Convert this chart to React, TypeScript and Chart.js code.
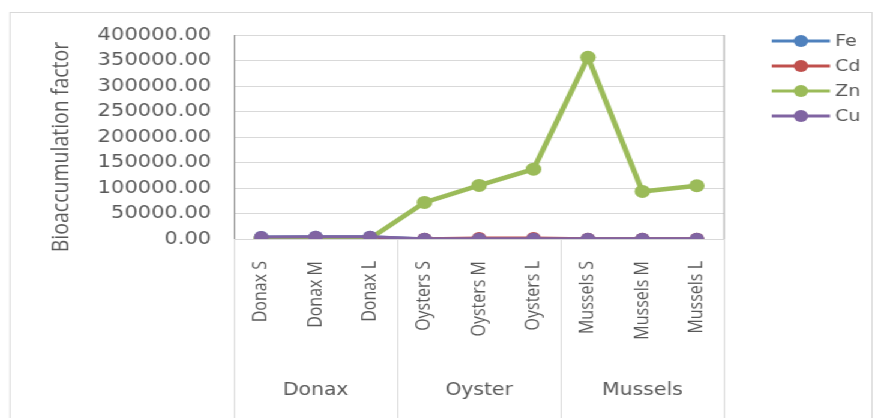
import React, { useEffect, useRef } from "react";
import { Chart, registerables } from "chart.js";

Chart.register(...registerables);

// ---- data ----
const categories = [
  "Donax S", "Donax M", "Donax L",
  "Oysters S", "Oysters M", "Oysters L",
  "Mussels S", "Mussels M", "Mussels L",
];
const groups = ["Donax", "Oyster", "Mussels"];
const groupSizes = [3, 3, 3];
const seriesNames = ["Fe", "Cd", "Zn", "Cu"];
const feValues = [3900, 4300, 4400, 200, 300, 300, 200, 150, 150];
const cdValues = [700, 800, 800, 600, 1800, 1800, 500, 400, 400];
const znValues = [800, 900, 1000, 71800, 105000, 137000, 356300, 93300, 104400];
const cuValues = [4000, 4400, 4500, 300, 400, 400, 300, 300, 300];
const yMin = 0;
const yMax = 400000;
const yStep = 50000;
const yTitle = "Bioaccumulation factor";

// ---- styles ----
const colors = ["#4F81BD", "#C0504D", "#9BBB59", "#8064A2"];
const lineWidths = [3, 3, 4.5, 3];
const pointRadii = [6, 6, 6.5, 6];
const TEXT = "#595959";
const W = 729;
const H = 418;
const SX = 875 / W;

const decorPlugin = {
  id: "decor",
  afterDraw(chart: any) {
    const ctx = chart.ctx as CanvasRenderingContext2D;
    const { left, right, top, bottom } = chart.chartArea;
    const x = chart.scales.x;
    ctx.save();
    // outer chart border
    ctx.strokeStyle = "#d9d9d9";
    ctx.lineWidth = 1;
    ctx.strokeRect(8.3, 12.5, 718.2, 420);
    // plot right border
    ctx.strokeStyle = "#a6a6a6";
    ctx.beginPath();
    ctx.moveTo(right, top);
    ctx.lineTo(right, bottom);
    ctx.stroke();
    // group separators and labels
    ctx.strokeStyle = "#d9d9d9";
    let idx = 0;
    const bounds: number[] = [];
    const boundAt = (b: number) => {
      if (b === 0) return left;
      if (b === categories.length) return right;
      return (x.getPixelForValue(b - 1) + x.getPixelForValue(b)) / 2;
    };
    bounds.push(boundAt(0));
    groupSizes.forEach((n) => {
      idx += n;
      bounds.push(boundAt(idx));
    });
    bounds.forEach((bx) => {
      ctx.beginPath();
      ctx.moveTo(Math.round(bx) + 0.5, bottom);
      ctx.lineTo(Math.round(bx) + 0.5, H);
      ctx.stroke();
    });
    ctx.fillStyle = TEXT;
    ctx.font = "17px 'DejaVu Sans'";
    ctx.textAlign = "center";
    ctx.textBaseline = "middle";
    groups.forEach((g, i) => {
      ctx.fillText(g, (bounds[i] + bounds[i + 1]) / 2, 391);
    });
    // y axis title
    ctx.save();
    ctx.translate(51.7, 147);
    ctx.rotate(-Math.PI / 2);
    ctx.font = "19.5px 'Open Sans'";
    ctx.fillStyle = TEXT;
    ctx.textAlign = "center";
    ctx.textBaseline = "middle";
    ctx.fillText(yTitle, 0, 0);
    ctx.restore();
    // legend
    const rows = [41, 66, 91, 116];
    seriesNames.forEach((name, i) => {
      const y = rows[i];
      ctx.strokeStyle = colors[i];
      ctx.lineWidth = 3;
      ctx.beginPath();
      ctx.moveTo(643, y);
      ctx.lineTo(691.5, y);
      ctx.stroke();
      ctx.fillStyle = colors[i];
      ctx.beginPath();
      ctx.arc(667.3, y, 6, 0, Math.PI * 2);
      ctx.fill();
      ctx.fillStyle = TEXT;
      ctx.font = "16px 'DejaVu Sans'";
      ctx.textAlign = "left";
      ctx.textBaseline = "middle";
      ctx.fillText(name, 695.7, y + 1);
    });
    ctx.restore();
  },
};

export default function App() {
  const ref = useRef<HTMLCanvasElement | null>(null);
  useEffect(() => {
    if (!ref.current) return;
    const valueSets = [feValues, cdValues, znValues, cuValues];
    const chart = new Chart(ref.current, {
      type: "line",
      data: {
        labels: categories,
        datasets: seriesNames.map((name, i) => ({
          label: name,
          data: valueSets[i],
          borderColor: colors[i],
          backgroundColor: colors[i],
          pointBackgroundColor: colors[i],
          pointBorderColor: colors[i],
          borderWidth: lineWidths[i],
          pointRadius: pointRadii[i],
          pointBorderWidth: 0,
          tension: 0,
          fill: false,
          order: seriesNames.length - i,
        })),
      },
      options: {
        animation: false,
        responsive: true,
        maintainAspectRatio: false,
        layout: { padding: { left: 0, top: 35, right: 125.8, bottom: 0 } },
        plugins: {
          legend: { display: false },
          tooltip: { enabled: false },
          title: { display: false },
        },
        scales: {
          x: {
            type: "category",
            offset: true,
            grid: { display: false, drawTicks: false },
            border: { display: false },
            ticks: {
              autoSkip: false,
              minRotation: 90,
              maxRotation: 90,
              padding: 22,
              color: TEXT,
              font: { family: "'Open Sans'", size: 16 },
            },
            afterFit(scale: any) {
              scale.height = H - 239;
            },
          },
          y: {
            min: yMin,
            max: yMax,
            ticks: {
              stepSize: yStep,
              padding: 19,
              color: TEXT,
              font: { family: "'DejaVu Sans'", size: 17.5 },
              callback: (v: any) => Number(v).toFixed(2),
            },
            grid: { color: "#d9d9d9", lineWidth: 1, drawTicks: false },
            border: { color: "#868686", width: 1 },
            afterFit(scale: any) {
              scale.width = 195;
            },
          },
        },
      },
      plugins: [decorPlugin],
    });
    return () => chart.destroy();
  }, []);

  return (
    <div
      style={{
        position: "absolute",
        left: 0,
        top: 0,
        width: W + "px",
        height: H + "px",
        transform: `scaleX(${SX})`,
        transformOrigin: "0 0",
        background: "#fff",
      }}
    >
      <canvas ref={ref} />
    </div>
  );
}
